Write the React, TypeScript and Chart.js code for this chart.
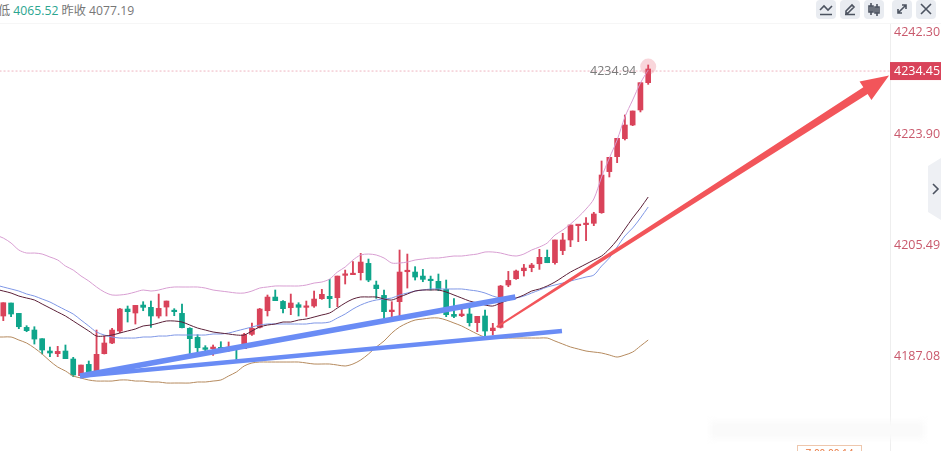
import React, { useEffect, useRef } from "react";
import { Chart, registerables } from "chart.js";

Chart.register(...registerables);

// open, high, low, close
const opens = [4193.73,4195.89,4194.17,4191.84,4191.40,4189.96,4187.91,4187.47,4187.91,4186.58,4183.81,4185.69,4184.31,4187.47,4189.24,4191.23,4194.89,4194.23,4195.55,4195.17,4193.73,4195.22,4194.56,4194.17,4191.68,4190.18,4188.46,4188.30,4188.52,4188.30,4188.52,4188.30,4190.68,4191.84,4194.61,4196.88,4196.16,4195.11,4195.61,4195.17,4195.39,4196.61,4197.00,4196.77,4200.49,4200.60,4200.93,4202.48,4198.88,4197.16,4194.45,4196.11,4201.09,4201.04,4200.37,4199.82,4199.49,4198.16,4194.00,4193.78,4194.06,4192.62,4193.73,4191.29,4191.84,4198.88,4199.93,4201.26,4201.76,4202.42,4203.48,4202.60,4204.60,4206.37,4208.75,4208.92,4209.14,4210.91,4217.73,4220.22,4223.21,4225.48,4227.98,4232.52];
const closes = [4195.94,4194.06,4191.95,4191.29,4189.90,4188.08,4187.58,4187.85,4186.64,4183.92,4185.58,4184.31,4187.36,4189.24,4191.40,4194.89,4194.45,4195.50,4195.17,4193.73,4195.00,4196.22,4194.45,4191.79,4189.96,4188.46,4188.19,4188.57,4188.08,4188.52,4188.30,4190.62,4191.68,4194.89,4196.88,4196.28,4194.95,4195.89,4195.17,4195.39,4196.55,4197.33,4196.61,4200.37,4200.65,4200.82,4202.70,4199.71,4198.27,4194.45,4194.72,4201.04,4201.32,4200.21,4199.82,4199.60,4198.16,4193.95,4193.67,4194.06,4192.62,4193.67,4191.23,4191.73,4198.71,4199.65,4201.21,4201.70,4202.20,4203.48,4202.59,4206.37,4206.37,4208.86,4208.86,4209.03,4210.69,4217.17,4220.11,4223.27,4225.48,4227.81,4232.52,4234.79];
const highs = [4195.94,4195.89,4194.17,4192.12,4191.95,4189.96,4188.57,4188.69,4188.91,4186.86,4185.58,4186.25,4191.40,4190.40,4191.68,4195.00,4195.39,4195.50,4196.11,4196.22,4197.38,4196.22,4194.95,4195.72,4191.79,4190.62,4188.80,4188.91,4189.46,4189.41,4188.63,4190.85,4192.56,4195.00,4197.22,4198.05,4196.28,4197.38,4195.94,4196.22,4197.88,4198.16,4199.82,4200.37,4201.37,4202.76,4204.14,4203.20,4199.54,4198.05,4196.11,4204.70,4204.03,4201.93,4201.48,4200.37,4200.71,4199.71,4196.61,4195.50,4195.17,4193.67,4194.72,4192.51,4198.82,4201.15,4201.37,4202.31,4202.48,4204.81,4204.70,4206.37,4207.48,4208.86,4208.86,4210.08,4210.97,4219.50,4220.11,4223.27,4227.15,4227.81,4232.52,4235.46];
const lows = [4192.95,4193.62,4191.62,4191.12,4189.07,4187.41,4186.97,4186.97,4186.64,4183.64,4183.64,4184.20,4184.20,4187.41,4189.13,4190.96,4192.73,4192.40,4194.61,4191.84,4193.39,4193.73,4193.78,4191.73,4187.30,4187.74,4187.36,4187.19,4187.63,4187.85,4186.08,4188.30,4190.51,4191.73,4193.73,4196.28,4194.23,4193.95,4193.73,4193.67,4195.17,4196.50,4195.11,4195.28,4199.05,4200.60,4199.71,4199.43,4196.66,4193.17,4193.62,4193.62,4198.38,4199.71,4199.43,4198.05,4197.94,4193.62,4193.45,4193.62,4192.06,4191.12,4189.96,4190.57,4191.73,4198.60,4199.82,4200.37,4201.09,4201.48,4202.59,4202.33,4203.93,4205.26,4206.09,4206.26,4208.75,4210.80,4216.84,4219.22,4222.99,4225.37,4227.65,4232.24];

// indicator lines
const upperBand = [4206.69,4205.86,4204.70,4204.20,4204.20,4204.03,4203.54,4203.04,4202.04,4201.37,4200.38,4199.55,4198.55,4197.72,4197.22,4197.22,4197.39,4197.72,4198.05,4197.88,4198.05,4198.38,4198.55,4198.55,4198.55,4198.55,4198.38,4198.05,4197.88,4197.72,4197.55,4197.55,4197.88,4198.38,4198.55,4198.72,4198.72,4198.72,4198.72,4198.88,4199.21,4199.38,4199.88,4201.04,4201.87,4203.04,4203.87,4204.03,4203.87,4203.37,4202.54,4202.54,4202.70,4203.04,4203.20,4203.37,4203.37,4203.54,4203.70,4203.70,4203.87,4204.03,4204.37,4204.37,4204.20,4203.87,4203.70,4204.03,4204.70,4205.20,4205.86,4207.19,4208.02,4209.02,4210.18,4211.51,4213.18,4216.83,4219.99,4222.98,4226.81,4229.63,4232.46,4234.62];
const midLine = [4197.88,4197.55,4197.05,4196.72,4196.39,4195.72,4195.06,4194.39,4193.73,4192.90,4192.07,4191.24,4190.40,4190.40,4190.57,4190.90,4191.24,4191.57,4192.07,4192.23,4192.57,4192.90,4192.90,4192.73,4192.23,4191.73,4191.40,4191.07,4190.90,4190.74,4190.57,4190.57,4191.24,4191.90,4192.23,4192.40,4192.73,4192.73,4193.06,4193.23,4193.56,4193.90,4194.23,4195.06,4195.89,4196.55,4196.89,4196.89,4196.89,4196.55,4196.39,4196.89,4197.39,4197.88,4198.05,4198.05,4198.05,4197.72,4197.22,4196.72,4196.22,4195.89,4195.56,4195.39,4195.89,4196.39,4196.72,4197.22,4197.88,4198.22,4198.72,4199.38,4200.21,4201.04,4201.71,4202.37,4203.04,4203.70,4204.87,4206.36,4208.19,4210.02,4211.68,4213.51];
const blueLine = [4198.55,4198.22,4197.88,4197.39,4197.05,4196.55,4196.06,4195.39,4194.73,4194.06,4193.06,4192.07,4191.07,4190.57,4190.24,4190.07,4190.07,4190.07,4190.24,4190.24,4190.40,4190.40,4190.57,4190.57,4190.57,4190.57,4190.57,4190.74,4190.74,4190.90,4191.24,4191.57,4191.90,4192.23,4192.40,4192.40,4192.40,4192.40,4192.40,4192.40,4192.57,4192.57,4192.73,4193.40,4194.06,4194.89,4195.56,4196.06,4196.39,4196.55,4196.72,4197.22,4197.55,4197.88,4198.05,4198.22,4198.22,4198.22,4198.22,4198.22,4198.05,4197.88,4197.55,4197.05,4196.72,4196.55,4196.72,4197.05,4197.55,4198.05,4198.55,4198.88,4199.21,4199.55,4199.88,4200.21,4200.54,4202.04,4203.37,4205.20,4207.03,4208.36,4210.02,4211.85];
const lowerBand = [4190.24,4190.24,4189.74,4189.24,4188.41,4187.41,4186.25,4185.25,4184.59,4183.76,4183.42,4183.09,4182.92,4182.92,4182.92,4183.09,4183.09,4182.92,4182.92,4182.76,4182.76,4182.59,4182.59,4182.59,4182.59,4182.76,4182.76,4182.92,4183.09,4183.76,4184.42,4185.42,4185.92,4186.08,4186.08,4186.08,4186.08,4186.08,4186.08,4185.92,4185.75,4185.75,4185.75,4185.58,4185.42,4185.75,4186.42,4187.41,4188.58,4189.57,4190.90,4191.90,4192.57,4193.06,4193.23,4193.40,4193.40,4193.06,4192.57,4192.07,4191.40,4190.74,4190.24,4190.24,4190.07,4190.07,4190.07,4190.07,4190.07,4190.07,4190.07,4189.57,4189.07,4188.58,4188.24,4187.91,4187.74,4187.58,4187.25,4186.91,4187.25,4187.74,4188.74,4189.74];
// value of each indicator just off the left edge
const upperLead = 4207.2;
const midLead = 4198.2;
const blueLead = 4198.9;
const lowerLead = 4190.24;

// hand-drawn trend lines and arrow: [candle index, price]
const trendA = [{ x: 9.87, y: 4183.76 }, { x: 65.9, y: 4196.89 }];
const trendB = [{ x: 9.87, y: 4183.76 }, { x: 71.9, y: 4191.24 }];
const arrowStart = { x: 63.5, y: 4191.9 };
const arrowTip = { x: 114.0, y: 4233.7 };

// axis
const tickValues = [4187.08, 4205.49, 4223.9, 4240.94];
const tickLabels = ["4187.08", "4205.49", "4223.90", "4242.30"];
const lastPrice = 4234.45;
const lastPriceLabel = "4234.45";
const maxMarkPrice = 4234.45;
const maxMarkLabel = "4234.94";
const lastIndex = 83;

const RED = "#d9435a";
const GREEN = "#0fa58b";
const FONT = '"Open Sans", "Noto Sans CJK SC", sans-serif';

const overlayPlugin = {
  id: "overlay",
  afterDatasetsDraw(chart: any) {
    const { ctx, scales } = chart;
    const sx = scales.x;
    const sy = scales.y;
    const x0 = sx.getPixelForValue(arrowStart.x);
    const y0 = sy.getPixelForValue(arrowStart.y);
    const x1 = sx.getPixelForValue(arrowTip.x);
    const y1 = sy.getPixelForValue(arrowTip.y);
    const len = Math.hypot(x1 - x0, y1 - y0);
    const ux = (x1 - x0) / len;
    const uy = (y1 - y0) / len;
    const nx = -uy;
    const ny = ux;
    const headLen = 28;
    const bx = x1 - ux * headLen;
    const by = y1 - uy * headLen;
    ctx.save();
    ctx.fillStyle = "#f2555a";
    ctx.beginPath();
    ctx.moveTo(x0 + nx * 1, y0 + ny * 1);
    ctx.lineTo(bx + nx * 4, by + ny * 4);
    ctx.lineTo(bx + nx * 11, by + ny * 11);
    ctx.lineTo(x1, y1);
    ctx.lineTo(bx - nx * 11, by - ny * 11);
    ctx.lineTo(bx - nx * 4, by - ny * 4);
    ctx.lineTo(x0 - nx * 1, y0 - ny * 1);
    ctx.closePath();
    ctx.fill();

    const ly = sy.getPixelForValue(lastPrice);
    ctx.font = `12.5px ${FONT}`;
    ctx.fillStyle = "#7a7a7a";
    ctx.textAlign = "right";
    ctx.textBaseline = "middle";
    ctx.fillText(maxMarkLabel, sx.getPixelForValue(lastIndex) - 12, sy.getPixelForValue(maxMarkPrice));

    const right = chart.chartArea.right;
    ctx.fillStyle = "#d9435a";
    ctx.fillRect(right, ly - 9, chart.width - right, 18);
    ctx.fillStyle = "#ffffff";
    ctx.font = `12.5px ${FONT}`;
    ctx.textAlign = "left";
    ctx.fillText(lastPriceLabel, right + 4, ly);
    ctx.restore();
  },
};

function Btn({ x, d }: { x: number; d: string }) {
  return (
    <div style={{ position: "absolute", left: x, top: 0, width: 20, height: 19, background: "#e9ecf1", borderRadius: 4 }}>
      <svg width="20" height="19" viewBox="0 0 20 19">
        <path d={d} fill="none" stroke="#4c5360" strokeWidth="1.6" />
      </svg>
    </div>
  );
}

export default function App() {
  const ref = useRef<HTMLCanvasElement | null>(null);

  useEffect(() => {
    document.body.style.margin = "0";
    const idx = opens.map((_, i) => i);
    const colors = idx.map((i) => (closes[i] >= opens[i] ? RED : GREEN));
    const line = (data: number[], lead: number, color: string, order: number) => ({
      type: "line" as const,
      data: [{ x: -1, y: lead }, ...data.map((y, i) => ({ x: i, y }))],
      borderColor: color,
      borderWidth: 1,
      pointRadius: 0,
      tension: 0.3,
      order,
    });
    const chart = new Chart(ref.current as HTMLCanvasElement, {
      data: {
        datasets: [
          {
            type: "bar",
            data: idx.map((i) => ({ x: i, y: [lows[i], highs[i]] })),
            backgroundColor: colors,
            barThickness: 1.2,
            grouped: false,
            order: 6,
          } as any,
          {
            type: "bar",
            data: idx.map((i) => ({ x: i, y: [opens[i], closes[i]] })),
            backgroundColor: colors,
            barThickness: 5,
            minBarLength: 1.5,
            grouped: false,
            order: 5,
          } as any,
          line(upperBand, upperLead, "#d89ed2", 4),
          line(midLine, midLead, "#5b2038", 3),
          line(blueLine, blueLead, "#7f97e6", 3),
          line(lowerBand, lowerLead, "#b58a5e", 3),
          {
            type: "line",
            data: [{ x: -1, y: lastPrice }, { x: 120, y: lastPrice }],
            borderColor: "#eeb4c0",
            borderWidth: 1,
            borderDash: [2, 2],
            pointRadius: 0,
            order: 7,
          },
          {
            type: "line",
            data: trendA,
            borderColor: "#6a8cf5",
            borderWidth: 5.5,
            pointRadius: 0,
            order: 1,
          },
          {
            type: "line",
            data: trendB,
            borderColor: "#6a8cf5",
            borderWidth: 4.5,
            pointRadius: 0,
            order: 1,
          },
          {
            type: "scatter",
            data: [{ x: lastIndex, y: 4235.2 }],
            backgroundColor: "rgba(232,90,110,0.25)",
            pointRadius: 8,
            pointBorderWidth: 0,
            order: 2,
          },
        ] as any,
      },
      options: {
        responsive: false,
        animation: false,
        devicePixelRatio: 1,
        layout: { padding: 0, autoPadding: false },
        plugins: { legend: { display: false }, tooltip: { enabled: false } },
        scales: {
          x: {
            type: "linear",
            display: false,
            offset: false,
            min: -0.4247,
            max: 114.12,
            grid: { display: false },
          },
          y: {
            type: "linear",
            position: "right",
            min: 4171.29,
            max: 4246.26,
            grid: { display: false, drawTicks: false },
            border: { color: "#eeeeee" },
            afterBuildTicks: (axis: any) => {
              axis.ticks = tickValues.map((value) => ({ value }));
            },
            afterFit: (axis: any) => {
              axis.width = 51;
              axis.paddingTop = 0;
              axis.paddingBottom = 0;
            },
            ticks: {
              autoSkip: false,
              padding: 4,
              color: "#c9596c",
              font: { size: 12.5, family: FONT },
              callback: (value: any) => tickLabels[tickValues.indexOf(value)] ?? "",
            },
          },
        },
      } as any,
      plugins: [overlayPlugin],
    });
    return () => chart.destroy();
  }, []);

  return (
    <div style={{ position: "fixed", left: 0, top: 0, width: 941, height: 451, overflow: "hidden", background: "#fff", fontFamily: FONT }}>
      <canvas ref={ref} width={941} height={451} style={{ position: "absolute", left: 0, top: 0, display: "block" }} />
      <div style={{ position: "absolute", left: 0, right: 0, top: 0, height: 23, borderBottom: "1px solid #f6f6f6", background: "#fff" }} />
      <div style={{ position: "absolute", left: -2, top: 2, fontSize: 12.2, lineHeight: "17px", color: "#777", whiteSpace: "nowrap" }}>
        低 <span style={{ color: "#2ba58f" }}>4065.52</span> 昨收 4077.19
      </div>
      <Btn x={816} d="M4 14.5H16M4 10L8 6L12 10L16 6" />
      <Btn x={840} d="M5 14.5H15M6 11L12 5L14 7L8 13H6Z" />
      <Btn x={864} d="M7 3V15M13 4V16M5 6H9V12H5ZM11 7H15V13H11Z" />
      <Btn x={892} d="M6 13L14 5M10 5H14V9M6 9V13H10" />
      <Btn x={916} d="M5 4L15 14M15 4L5 14" />
      <svg width="13" height="62" style={{ position: "absolute", left: 928, top: 158 }}>
        <path d="M13 0L0 8V54L13 62Z" fill="#eef0f4" />
        <path d="M5 26L10 31L5 36" fill="none" stroke="#4c5360" strokeWidth="1.6" />
      </svg>
      <div style={{ position: "absolute", left: 710, top: 421, width: 215, height: 18, background: "#fafafa", filter: "blur(3px)" }} />
      <div style={{ position: "absolute", left: 797, top: 445, width: 65, height: 10, boxSizing: "border-box", border: "1px solid #eec7ad", color: "#e8743b", fontSize: 10, lineHeight: "14px", textAlign: "center", overflow: "hidden" }}>
        7:00 00:14
      </div>
    </div>
  );
}
